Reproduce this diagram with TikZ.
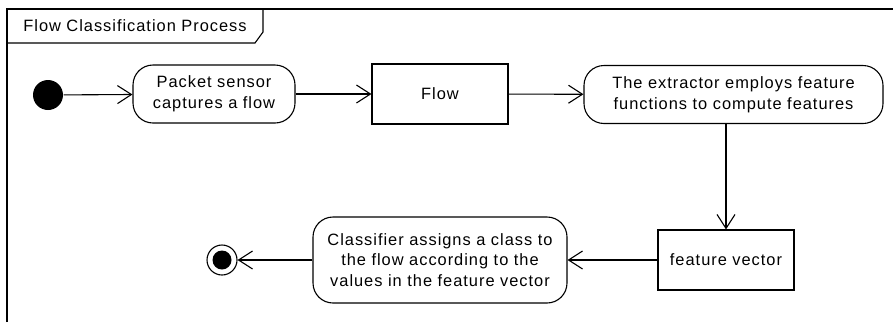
\documentclass[tikz,border=0pt]{standalone}
\usepackage{fontspec}
\setmainfont[LetterSpace=6]{Liberation Sans}
\usetikzlibrary{arrows.meta, positioning}

\begin{document}
\begin{tikzpicture}[
    x=1pt, y=-1pt,
    action/.style={
        rectangle, draw, rounded corners=20pt, fill=white,
        minimum height=58pt, align=center,
        font=\fontsize{16.4}{20.7}\selectfont, inner sep=0pt
    },
    object/.style={
        rectangle, draw, fill=white,
        minimum width=136pt, minimum height=60pt,
        align=center, font=\fontsize{16.4}{20.7}\selectfont
    },
    initial/.style={circle, fill=black, minimum size=30pt, inner sep=0pt},
    final/.style={
        circle, draw, minimum size=30pt, inner sep=0pt,
        path picture={\fill (path picture bounding box.center) circle (9.5pt);}
    },
    >={Straight Barb[length=14pt, width=18pt]}, line width=1.1pt
]
\useasboundingbox (0,0) rectangle (893,322);

% frame and its name tab
\draw (7,322) -- (7,9) -- (893,9);
\draw (7,43) -- (255,43) -- (263,32) -- (263,9);
\node[font=\fontsize{16.4}{20.7}\selectfont] (title) at (135,26) {Flow Classification Process};

\node[initial] (start) at (48,95) {};
\node[action, minimum width=162pt] (sensor) at (214,94) {Packet sensor\\captures a flow};
\node[object] (flow) at (440,94) {Flow};
\node[action, minimum width=299pt] (extr) at (733.5,94.5) {The extractor employs feature\\functions to compute features};
\node[object] (fvec) at (726,260) {feature vector};
\node[action, minimum width=254pt, minimum height=86pt] (classif) at (440,260) {Classifier assigns a class to\\the flow according to the\\values in the feature vector};
\node[final] (stop) at (222,260) {};

\draw[->] (start) -- (sensor);
\draw[->] (sensor) -- (flow);
\draw[->] (flow) -- (extr);
\draw[->] (fvec.north |- extr.south) -- (fvec.north);
\draw[->] (fvec) -- (classif);
\draw[->] (classif) -- (stop);

\end{tikzpicture}
\end{document}
